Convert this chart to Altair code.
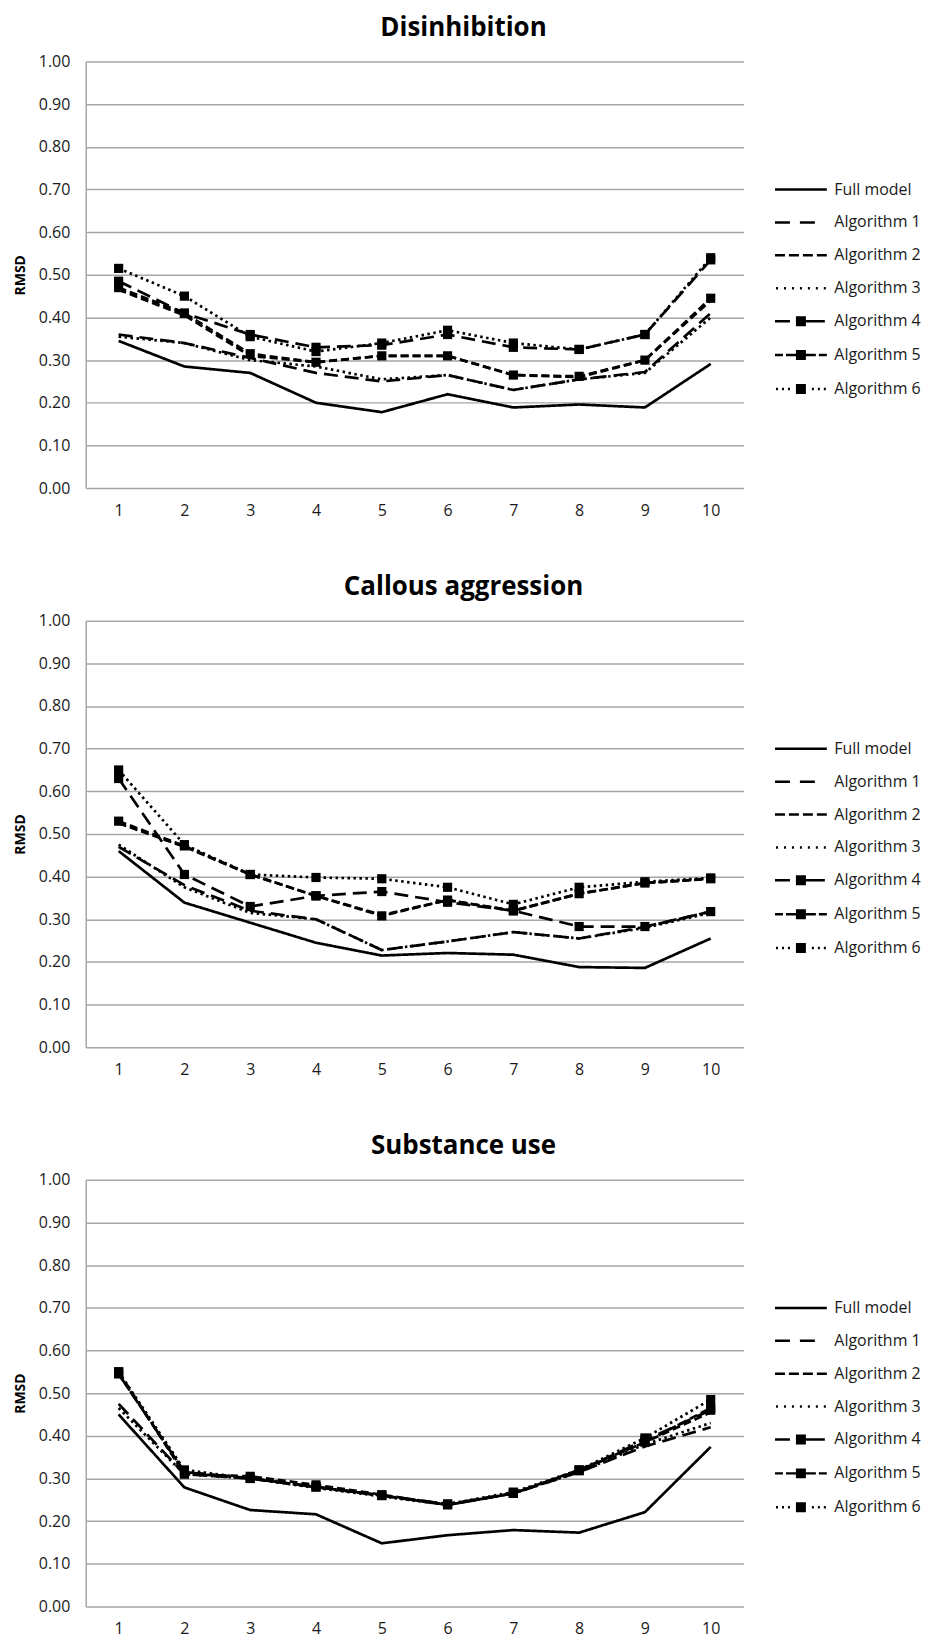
import altair as alt
import pandas as pd

# ---------------- data ----------------
x_steps = [1, 2, 3, 4, 5, 6, 7, 8, 9, 10]
series_names = ["Full model", "Algorithm 1", "Algorithm 2", "Algorithm 3",
                "Algorithm 4", "Algorithm 5", "Algorithm 6"]
marker_series = ["Algorithm 4", "Algorithm 5", "Algorithm 6"]
panel_titles = ["Disinhibition", "Callous aggression", "Substance use"]

# Disinhibition
dis_full = [0.345, 0.285, 0.270, 0.200, 0.178, 0.220, 0.189, 0.196, 0.189, 0.291]
dis_alg1 = [0.360, 0.340, 0.305, 0.270, 0.250, 0.265, 0.230, 0.255, 0.272, 0.410]
dis_alg2 = [0.465, 0.405, 0.310, 0.295, 0.310, 0.310, 0.265, 0.260, 0.300, 0.440]
dis_alg3 = [0.355, 0.340, 0.300, 0.285, 0.255, 0.265, 0.230, 0.255, 0.270, 0.400]
dis_alg4 = [0.485, 0.410, 0.360, 0.330, 0.335, 0.360, 0.330, 0.325, 0.360, 0.535]
dis_alg5 = [0.470, 0.410, 0.315, 0.295, 0.310, 0.310, 0.265, 0.262, 0.300, 0.445]
dis_alg6 = [0.515, 0.450, 0.355, 0.320, 0.340, 0.370, 0.340, 0.325, 0.360, 0.540]

# Callous aggression
cal_full = [0.460, 0.339, 0.292, 0.245, 0.215, 0.221, 0.217, 0.188, 0.186, 0.255]
cal_alg1 = [0.470, 0.380, 0.320, 0.300, 0.228, 0.248, 0.270, 0.255, 0.282, 0.318]
cal_alg2 = [0.525, 0.470, 0.405, 0.355, 0.310, 0.345, 0.320, 0.360, 0.385, 0.395]
cal_alg3 = [0.475, 0.375, 0.315, 0.300, 0.228, 0.248, 0.270, 0.255, 0.280, 0.315]
cal_alg4 = [0.630, 0.405, 0.330, 0.355, 0.365, 0.340, 0.320, 0.283, 0.283, 0.318]
cal_alg5 = [0.530, 0.472, 0.405, 0.355, 0.308, 0.345, 0.320, 0.360, 0.385, 0.395]
cal_alg6 = [0.650, 0.475, 0.405, 0.398, 0.395, 0.375, 0.335, 0.375, 0.388, 0.397]

# Substance use
sub_full = [0.450, 0.279, 0.226, 0.216, 0.148, 0.167, 0.179, 0.173, 0.221, 0.374]
sub_alg1 = [0.475, 0.310, 0.300, 0.280, 0.260, 0.238, 0.265, 0.315, 0.375, 0.420]
sub_alg2 = [0.545, 0.315, 0.300, 0.280, 0.260, 0.238, 0.265, 0.318, 0.385, 0.455]
sub_alg3 = [0.465, 0.310, 0.300, 0.278, 0.258, 0.238, 0.265, 0.315, 0.380, 0.430]
sub_alg4 = [0.545, 0.315, 0.300, 0.280, 0.260, 0.240, 0.265, 0.318, 0.390, 0.460]
sub_alg5 = [0.550, 0.310, 0.305, 0.285, 0.262, 0.238, 0.265, 0.320, 0.385, 0.465]
sub_alg6 = [0.550, 0.320, 0.300, 0.280, 0.260, 0.240, 0.268, 0.320, 0.395, 0.485]

y_ticks = [0.0, 0.1, 0.2, 0.3, 0.4, 0.5, 0.6, 0.7, 0.8, 0.9, 1.0]

panel_data = {
    "Disinhibition": [dis_full, dis_alg1, dis_alg2, dis_alg3, dis_alg4, dis_alg5, dis_alg6],
    "Callous aggression": [cal_full, cal_alg1, cal_alg2, cal_alg3, cal_alg4, cal_alg5, cal_alg6],
    "Substance use": [sub_full, sub_alg1, sub_alg2, sub_alg3, sub_alg4, sub_alg5, sub_alg6],
}

# ---------------- styles ----------------
FONT = "Open Sans"
GRID = "#a6a6a6"
dash_range = [[1, 0], [14, 7], [8, 4], [2.5, 3.5], [14, 7], [8, 4], [2.5, 3.5]]

# legend symbols as custom paths (unit = 8 px, since sqrt(256)/2 = 8)
U = 8.0


def seg(a, b, yy=0.0):
    return f"M{a / U:.4f},{yy / U:.4f}H{b / U:.4f}"


def square(h=5.0):
    return "".join(seg(-h, h, yy) for yy in [-3.75, -2.5, -1.25, 0, 1.25, 2.5, 3.75])


def dots(centers):
    return "".join(seg(c - 1.0, c + 1.0) for c in centers)


legend_paths = [
    seg(-26, 26),
    seg(-26, -11) + seg(-1, 14),
    seg(-26, -16) + seg(-12, -2) + seg(2, 12) + seg(16, 26),
    dots([-24, -16, -8, 0, 8, 16, 24]),
    seg(-26, -11) + square() + seg(5, 24),
    seg(-26, -18) + seg(-15, -5) + square() + seg(5, 15) + seg(18, 26),
    dots([-24, -18, -12]) + square() + dots([12, 18, 24]),
]


def build_panel(title):
    rows = []
    for name, vals in zip(series_names, panel_data[title]):
        for xv, v in zip(x_steps, vals):
            rows.append({"x": xv, "value": v, "series": name})
    df = pd.DataFrame(rows)
    base = alt.Chart(df)

    x_enc = alt.X("x:O", scale=alt.Scale(type="point", padding=0.5),
                  axis=alt.Axis(title=None, labelAngle=0, ticks=False, tickSize=0,
                                domain=False, grid=False, labelPadding=14))
    y_enc = alt.Y("value:Q", scale=alt.Scale(domain=[0, 1], nice=False),
                  axis=alt.Axis(title="RMSD", values=y_ticks, format=".2f",
                                ticks=False, tickSize=0, labelPadding=16,
                                titlePadding=11, grid=True))

    lines = base.mark_line(color="black", strokeWidth=2.7).encode(
        x=x_enc, y=y_enc,
        strokeDash=alt.StrokeDash("series:N",
                                  scale=alt.Scale(domain=series_names, range=dash_range),
                                  legend=None),
    )
    markers = base.transform_filter(
        alt.FieldOneOfPredicate(field="series", oneOf=marker_series)
    ).mark_point(shape="square", filled=True, size=85, color="black", opacity=1).encode(
        x=x_enc, y=y_enc, detail="series:N"
    )
    legend_layer = base.transform_filter("datum.value < 0").mark_point(
        filled=False, color="black", strokeWidth=2.5, size=256, opacity=1
    ).encode(
        x=x_enc, y=y_enc,
        shape=alt.Shape("series:N",
                        scale=alt.Scale(domain=series_names, range=legend_paths),
                        legend=alt.Legend(title=None, orient="none", legendX=708, legendY=119,
                                          labelFont=FONT, labelFontSize=16, labelColor="#1a1a1a",
                                          symbolSize=256, symbolStrokeWidth=2.5,
                                          symbolStrokeColor="black", symbolFillColor="transparent",
                                          rowPadding=15, labelOffset=24, padding=0,
                                          symbolOffset=0, labelLimit=300)),
    )
    return alt.layer(lines, markers, legend_layer).properties(
        width=660, height=428,
        title=alt.Title(title, font=FONT, fontSize=26, fontWeight="bold", color="black",
                        anchor="middle", dx=49, offset=13),
    )


panels = [build_panel(t) for t in panel_titles]

chart = alt.vconcat(*panels, spacing=56).resolve_scale(
    shape="independent"
).resolve_legend(shape="independent").configure(
    background="white", padding={"left": 5, "top": 4, "right": 5, "bottom": 0}
).configure_view(stroke=None).configure_axis(
    labelFont=FONT, labelFontSize=16, labelColor="#1a1a1a",
    titleFont=FONT, titleFontSize=14, titleFontWeight="bold", titleColor="black",
    gridColor=GRID, gridWidth=1.5, gridOpacity=1,
    domainColor=GRID, domainWidth=1.5,
)

chart.save("out.html", embed_options={"renderer": "svg", "actions": False})
